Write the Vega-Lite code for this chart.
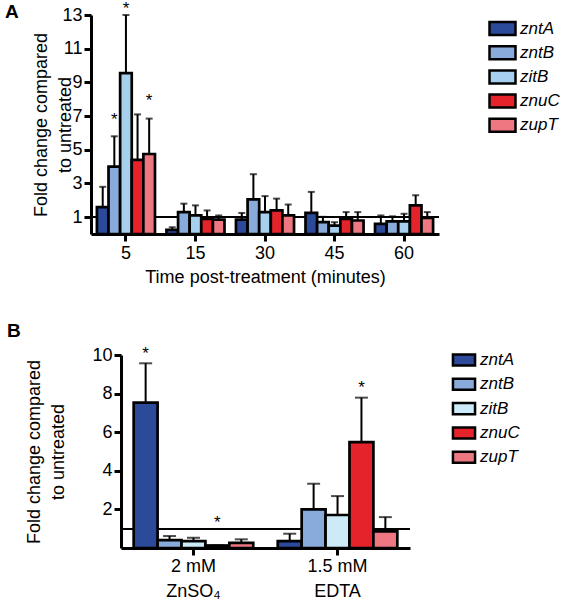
{
  "$schema": "https://vega.github.io/schema/vega-lite/v6.json",
  "padding": {"left": 5, "top": 0, "right": 0, "bottom": 0},
  "background": "white",
  "spacing": 36,
  "center": true,
  "config": {
    "font": "Liberation Sans",
    "view": {"stroke": null},
    "axis": {"domainColor": "black", "domainWidth": 3, "tickColor": "black", "tickWidth": 3, "tickSize": 7, "labelColor": "black", "labelFontSize": 18, "titleColor": "black", "titleFontSize": 18, "titleFontWeight": "normal", "grid": false, "labelFont": "Liberation Sans", "titleFont": "Liberation Sans", "labelOverlap": false},
    "legend": {"title": null, "symbolType": "M-1.3,-0.65H1.3V0.65H-1.3Z", "symbolStrokeColor": "black", "symbolStrokeWidth": 2.5, "labelFontStyle": "italic", "labelFontSize": 17, "labelColor": "black", "labelFont": "Liberation Sans", "labelOffset": 6, "padding": 0},
    "title": {"fontSize": 19, "fontWeight": "bold", "anchor": "start", "frame": "group", "color": "black", "font": "Liberation Sans", "baseline": "alphabetic"}
  },
  "resolve": {"scale": {"color": "independent", "x": "independent", "y": "independent", "xOffset": "independent"}, "axis": {"x": "independent", "y": "independent"}, "legend": {"color": "independent"}},
  "vconcat": [
    {
      "title": {"text": "A", "dx": -86, "offset": -22},
      "width": 348,
      "height": 219,
      "data": {"values": [
        {"t": "5", "g": "zntA", "v": 1.6, "e": 2.8},
        {"t": "5", "g": "zntB", "v": 4.0, "e": 5.8, "s": 7.27},
        {"t": "5", "g": "zitB", "v": 9.55, "e": 13.0, "s": 13.82},
        {"t": "5", "g": "znuC", "v": 4.4, "e": 7.1},
        {"t": "5", "g": "zupT", "v": 4.75, "e": 6.85, "s": 8.37},
        {"t": "15", "g": "zntA", "v": 0.25, "e": 0.4},
        {"t": "15", "g": "zntB", "v": 1.3, "e": 1.8},
        {"t": "15", "g": "zitB", "v": 1.1, "e": 1.7},
        {"t": "15", "g": "znuC", "v": 0.9, "e": 1.4},
        {"t": "15", "g": "zupT", "v": 0.85, "e": 1.1},
        {"t": "30", "g": "zntA", "v": 0.85, "e": 1.25},
        {"t": "30", "g": "zntB", "v": 2.05, "e": 3.55},
        {"t": "30", "g": "zitB", "v": 1.3, "e": 2.25},
        {"t": "30", "g": "znuC", "v": 1.4, "e": 2.1},
        {"t": "30", "g": "zupT", "v": 1.1, "e": 1.75},
        {"t": "45", "g": "zntA", "v": 1.25, "e": 2.5},
        {"t": "45", "g": "zntB", "v": 0.7, "e": 1.02},
        {"t": "45", "g": "zitB", "v": 0.5, "e": 0.7},
        {"t": "45", "g": "znuC", "v": 0.9, "e": 1.3},
        {"t": "45", "g": "zupT", "v": 0.8, "e": 1.3},
        {"t": "60", "g": "zntA", "v": 0.6, "e": 1.1},
        {"t": "60", "g": "zntB", "v": 0.75, "e": 1.05},
        {"t": "60", "g": "zitB", "v": 0.75, "e": 1.2},
        {"t": "60", "g": "znuC", "v": 1.7, "e": 2.3},
        {"t": "60", "g": "zupT", "v": 0.95, "e": 1.3}
      ]},
      "layer": [
        {
          "mark": {"type": "rule", "strokeWidth": 1.5, "color": "black"},
          "encoding": {"y": {"datum": 1, "type": "quantitative"}}
        },
        {
          "encoding": {
            "x": {"field": "t", "type": "ordinal", "sort": ["5", "15", "30", "45", "60"], "scale": {"paddingInner": 0.165, "paddingOuter": 0.085}, "axis": {"labelAngle": 0, "title": "Time post-treatment (minutes)", "labelPadding": 3, "titlePadding": 6, "bandPosition": 0.5}},
            "xOffset": {"field": "g", "type": "nominal", "sort": ["zntA", "zntB", "zitB", "znuC", "zupT"], "scale": {"paddingInner": 0, "paddingOuter": 0}}
          },
          "layer": [
            {
              "mark": {"type": "bar", "stroke": "black", "strokeWidth": 2.7},
              "encoding": {
                "y": {"field": "v", "type": "quantitative", "scale": {"domain": [0, 13], "nice": false}, "title": ["Fold change compared", "to untreated"], "axis": {"values": [1, 3, 5, 7, 9, 11, 13], "tickCount": 20, "format": "d", "titleLineHeight": 24, "labelPadding": 2, "titlePadding": -13}},
                "color": {"field": "g", "type": "nominal", "sort": ["zntA", "zntB", "zitB", "znuC", "zupT"], "scale": {"domain": ["zntA", "zntB", "zitB", "znuC", "zupT"], "range": ["#2C4A9A", "#88ABDB", "#A6D0EE", "#E4232B", "#EE7882"]}, "legend": {"orient": "none", "legendX": 400, "legendY": 2, "symbolSize": 400, "rowPadding": 1.2}}
              }
            },
            {
              "mark": {"type": "rule", "strokeWidth": 2, "color": "black"},
              "encoding": {"y": {"field": "v", "type": "quantitative"}, "y2": {"field": "e"}}
            },
            {
              "mark": {"type": "tick", "thickness": 2, "size": 7, "color": "black", "orient": "horizontal"},
              "encoding": {"y": {"field": "e", "type": "quantitative"}}
            },
            {
              "transform": [{"filter": "isValid(datum.s)"}],
              "mark": {"type": "text", "text": "*", "fontSize": 17, "baseline": "top", "color": "black"},
              "encoding": {"y": {"field": "s", "type": "quantitative"}}
            }
          ]
        }
      ]
    },
    {
      "title": {"text": "B", "dx": -114, "offset": -1},
      "width": 289,
      "height": 193,
      "data": {"values": [
        {"t": "ZnSO4", "g": "zntA", "v": 7.53, "e": 9.57, "s": 10.45},
        {"t": "ZnSO4", "g": "zntB", "v": 0.41, "e": 0.62},
        {"t": "ZnSO4", "g": "zitB", "v": 0.36, "e": 0.53},
        {"t": "ZnSO4", "g": "znuC", "v": 0.13, "e": 0.13, "s": 1.71},
        {"t": "ZnSO4", "g": "zupT", "v": 0.27, "e": 0.45},
        {"t": "EDTA", "g": "zntA", "v": 0.36, "e": 0.74},
        {"t": "EDTA", "g": "zntB", "v": 2.0, "e": 3.33},
        {"t": "EDTA", "g": "zitB", "v": 1.71, "e": 2.69},
        {"t": "EDTA", "g": "znuC", "v": 5.49, "e": 7.79, "s": 8.71},
        {"t": "EDTA", "g": "zupT", "v": 0.86, "e": 1.6}
      ]},
      "layer": [
        {
          "mark": {"type": "rule", "strokeWidth": 1.5, "color": "black"},
          "encoding": {"y": {"datum": 1, "type": "quantitative"}}
        },
        {
          "encoding": {
            "x": {"field": "t", "type": "ordinal", "sort": ["ZnSO4", "EDTA"], "scale": {"paddingInner": 0.17, "paddingOuter": 0.088}, "axis": {"labelAngle": 0, "title": null, "labelPadding": 2, "labelLineHeight": 25, "bandPosition": 0.5, "labelExpr": "datum.value == 'ZnSO4' ? ['2 mM', 'ZnSO₄'] : ['1.5 mM', 'EDTA']"}},
            "xOffset": {"field": "g", "type": "nominal", "sort": ["zntA", "zntB", "zitB", "znuC", "zupT"], "scale": {"paddingInner": 0, "paddingOuter": 0}}
          },
          "layer": [
            {
              "mark": {"type": "bar", "stroke": "black", "strokeWidth": 2.7},
              "encoding": {
                "y": {"field": "v", "type": "quantitative", "scale": {"domain": [0, 10], "nice": false}, "title": ["Fold change compared", "to untreated"], "axis": {"values": [2, 4, 6, 8, 10], "tickCount": 20, "format": "d", "titleLineHeight": 24, "labelPadding": 2, "titlePadding": 24}},
                "color": {"field": "g", "type": "nominal", "sort": ["zntA", "zntB", "zitB", "znuC", "zupT"], "scale": {"domain": ["zntA", "zntB", "zitB", "znuC", "zupT"], "range": ["#2C4A9A", "#88ABDB", "#CCEAF8", "#E4232B", "#EE7882"]}, "legend": {"orient": "none", "legendX": 323, "legendY": -15, "padding": 10, "symbolSize": 289, "rowPadding": 2.3}}
              }
            },
            {
              "mark": {"type": "rule", "strokeWidth": 2, "color": "black"},
              "encoding": {"y": {"field": "v", "type": "quantitative"}, "y2": {"field": "e"}}
            },
            {
              "mark": {"type": "tick", "thickness": 2, "size": 13, "color": "black", "orient": "horizontal"},
              "encoding": {"y": {"field": "e", "type": "quantitative"}}
            },
            {
              "transform": [{"filter": "isValid(datum.s)"}],
              "mark": {"type": "text", "text": "*", "fontSize": 17, "baseline": "top", "color": "black"},
              "encoding": {"y": {"field": "s", "type": "quantitative"}}
            }
          ]
        }
      ]
    }
  ]
}
